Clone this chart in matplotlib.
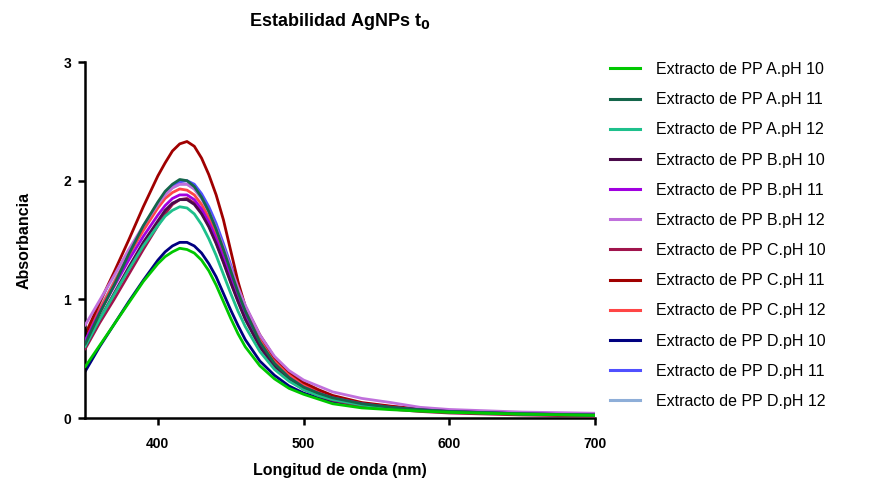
import matplotlib
matplotlib.use("Agg")
import matplotlib.pyplot as plt
from matplotlib.lines import Line2D

plt.rcParams['font.family'] = ['Liberation Sans', 'DejaVu Sans']

# Wavelength grid (nm)
wavelength = [350, 360, 370, 380, 390, 400, 405, 410, 415, 420, 425, 430, 435, 440,
              445, 450, 455, 460, 470, 480, 490, 500, 510, 520, 540, 560, 580, 600, 650, 700]

# Absorbance spectra, one list per extract / pH
a_ph10 = [0.43, 0.61, 0.79, 0.97, 1.15, 1.30, 1.36, 1.40, 1.43, 1.42, 1.39, 1.33, 1.24, 1.12,
          0.98, 0.84, 0.71, 0.60, 0.44, 0.33, 0.25, 0.20, 0.16, 0.12, 0.085, 0.07, 0.058, 0.048, 0.032, 0.022]
a_ph11 = [0.62, 0.88, 1.12, 1.38, 1.62, 1.82, 1.91, 1.97, 2.01, 2.00, 1.95, 1.86, 1.74, 1.59,
          1.42, 1.24, 1.06, 0.90, 0.64, 0.46, 0.34, 0.26, 0.21, 0.17, 0.12, 0.09, 0.07, 0.055, 0.035, 0.025]
a_ph12 = [0.60, 0.83, 1.04, 1.25, 1.45, 1.62, 1.70, 1.75, 1.78, 1.77, 1.72, 1.63, 1.51, 1.37,
          1.21, 1.05, 0.90, 0.77, 0.56, 0.41, 0.31, 0.24, 0.19, 0.155, 0.11, 0.085, 0.066, 0.052, 0.034, 0.024]
b_ph10 = [0.60, 0.83, 1.05, 1.27, 1.48, 1.66, 1.75, 1.81, 1.84, 1.84, 1.80, 1.72, 1.61, 1.47,
          1.31, 1.14, 0.98, 0.83, 0.60, 0.44, 0.33, 0.25, 0.20, 0.16, 0.115, 0.088, 0.068, 0.054, 0.035, 0.025]
b_ph11 = [0.65, 0.89, 1.11, 1.33, 1.53, 1.71, 1.79, 1.85, 1.88, 1.88, 1.84, 1.76, 1.65, 1.51,
          1.35, 1.18, 1.01, 0.86, 0.62, 0.45, 0.34, 0.26, 0.21, 0.17, 0.12, 0.09, 0.07, 0.056, 0.036, 0.026]
b_ph12 = [0.78, 0.99, 1.20, 1.42, 1.62, 1.80, 1.88, 1.94, 1.97, 1.97, 1.93, 1.85, 1.74, 1.60,
          1.44, 1.27, 1.10, 0.95, 0.70, 0.52, 0.40, 0.32, 0.27, 0.22, 0.165, 0.13, 0.09, 0.072, 0.05, 0.04]
c_ph10 = [0.58, 0.80, 1.00, 1.21, 1.42, 1.62, 1.72, 1.80, 1.84, 1.85, 1.81, 1.73, 1.62, 1.48,
          1.32, 1.15, 0.99, 0.84, 0.60, 0.43, 0.32, 0.24, 0.19, 0.15, 0.10, 0.075, 0.055, 0.042, 0.025, 0.015]
c_ph11 = [0.70, 0.97, 1.23, 1.50, 1.78, 2.04, 2.15, 2.25, 2.31, 2.33, 2.29, 2.19, 2.05, 1.88,
          1.67, 1.41, 1.15, 0.94, 0.70, 0.51, 0.39, 0.30, 0.24, 0.19, 0.13, 0.10, 0.075, 0.058, 0.036, 0.025]
c_ph12 = [0.66, 0.91, 1.14, 1.37, 1.58, 1.77, 1.85, 1.90, 1.93, 1.92, 1.88, 1.80, 1.69, 1.55,
          1.39, 1.22, 1.05, 0.90, 0.66, 0.49, 0.37, 0.28, 0.22, 0.18, 0.125, 0.095, 0.072, 0.057, 0.036, 0.025]
d_ph10 = [0.39, 0.60, 0.79, 0.98, 1.16, 1.33, 1.40, 1.45, 1.48, 1.48, 1.45, 1.39, 1.30, 1.19,
          1.05, 0.91, 0.78, 0.66, 0.48, 0.36, 0.27, 0.21, 0.17, 0.14, 0.10, 0.078, 0.062, 0.05, 0.033, 0.023]
d_ph11 = [0.66, 0.90, 1.13, 1.37, 1.60, 1.80, 1.89, 1.95, 1.99, 2.00, 1.97, 1.89, 1.78, 1.64,
          1.47, 1.29, 1.11, 0.94, 0.67, 0.48, 0.36, 0.27, 0.21, 0.17, 0.12, 0.09, 0.07, 0.055, 0.035, 0.025]
d_ph12 = [0.68, 0.92, 1.15, 1.38, 1.60, 1.79, 1.88, 1.94, 1.97, 1.97, 1.93, 1.85, 1.74, 1.60,
          1.43, 1.26, 1.08, 0.92, 0.66, 0.48, 0.36, 0.27, 0.21, 0.17, 0.12, 0.09, 0.07, 0.055, 0.035, 0.025]

series_labels = ["Extracto de PP A.pH 10", "Extracto de PP A.pH 11", "Extracto de PP A.pH 12",
                 "Extracto de PP B.pH 10", "Extracto de PP B.pH 11", "Extracto de PP B.pH 12",
                 "Extracto de PP C.pH 10", "Extracto de PP C.pH 11", "Extracto de PP C.pH 12",
                 "Extracto de PP D.pH 10", "Extracto de PP D.pH 11", "Extracto de PP D.pH 12"]
series_values = [a_ph10, a_ph11, a_ph12, b_ph10, b_ph11, b_ph12,
                 c_ph10, c_ph11, c_ph12, d_ph10, d_ph11, d_ph12]
series_colors = ["#00c800", "#14664a", "#1ec08c", "#4a0a4a", "#a000e0", "#c070dc",
                 "#a0144c", "#a00000", "#ff4646", "#000080", "#5050ff", "#8eaed8"]

x_ticks = [400, 500, 600, 700]
y_ticks = [0, 1, 2, 3]

fig = plt.figure(figsize=(8.8, 4.78), dpi=100)
ax = fig.add_axes([85 / 880, 1 - 418 / 478, 510 / 880, 356 / 478])

n = len(series_values)
for i, (lab, vals, col) in enumerate(zip(series_labels, series_values, series_colors)):
    ax.plot(wavelength, vals, color=col, lw=2.0, label=lab, zorder=2 + (n - i) * 0.1,
            solid_joinstyle='round', solid_capstyle='round')

ax.set_xlim(350, 700)
ax.set_ylim(0, 3)
ax.set_xticks(x_ticks)
ax.set_yticks(y_ticks)
ax.spines['top'].set_visible(False)
ax.spines['right'].set_visible(False)
for s in ('left', 'bottom'):
    ax.spines[s].set_linewidth(1.8)
    ax.spines[s].set_color('black')
ax.tick_params(axis='both', direction='out', length=5, width=1.8, colors='black',
               labelsize=10)
for lbl in ax.get_xticklabels() + ax.get_yticklabels():
    lbl.set_fontweight('bold')
ax.tick_params(axis='x', pad=9)
ax.tick_params(axis='y', pad=5)

ax.set_xlabel("Longitud de onda (nm)", fontsize=11.5, fontweight='bold', labelpad=8)
ax.set_ylabel("Absorbancia", fontsize=11.5, fontweight='bold', labelpad=23)
fig.text(340 / 880, 1 - 22 / 478, r"Estabilidad AgNPs t$_\mathbf{0}$", ha='center', va='center',
         fontsize=13, fontweight='bold')

leg_handles = [Line2D([0], [0], color=c, lw=2.2) for c in series_colors]
fig.legend(leg_handles, series_labels, loc='upper left',
           bbox_to_anchor=(610 / 880, 1 - 62 / 478), frameon=False,
           fontsize=11.5, handlelength=1.9, handletextpad=1.0, labelspacing=0.95,
           borderpad=0, borderaxespad=0)

fig.savefig("out.png", dpi=100)
